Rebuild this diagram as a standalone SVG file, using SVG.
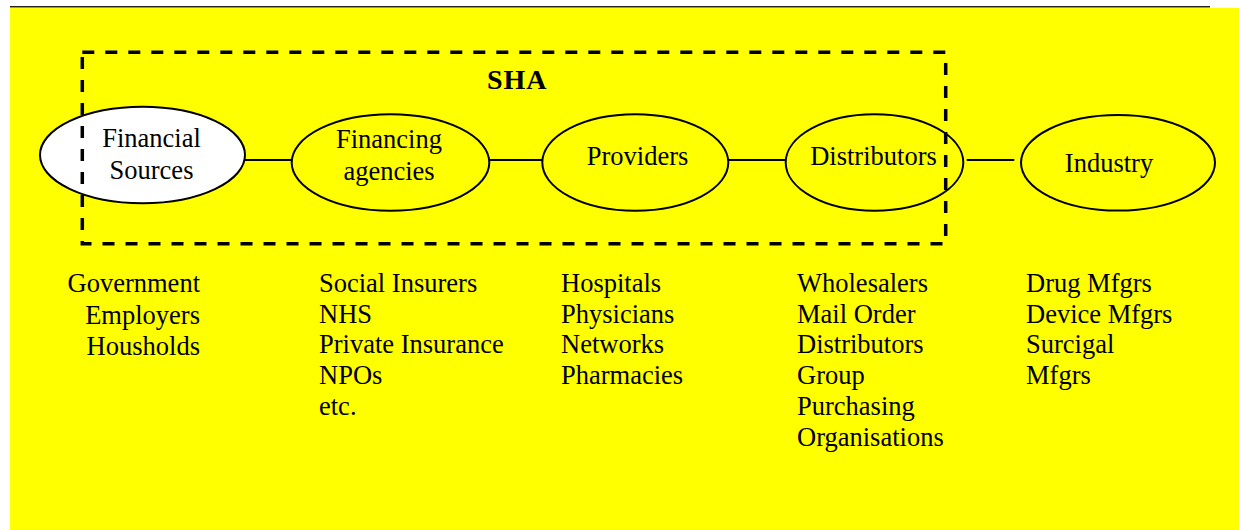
<svg xmlns="http://www.w3.org/2000/svg" width="1239" height="530" viewBox="0 0 1239 530">
  <style>
    .node { fill: #FFFF00; stroke: #000; stroke-width: 2; }
    .node.white { fill: #FFFFFF; }
    .lbl { font-family: "Liberation Serif", "Times New Roman", serif; font-size: 26.5px; fill: #000; }
    .mid { text-anchor: middle; }
    .title { font-size: 28px; font-weight: bold; letter-spacing: 1px; }
    .link { stroke: #000; stroke-width: 2; fill: none; }
  </style>

  <!-- page background and top rule -->
  <rect x="10" y="8" width="1229" height="522" fill="#FFFF00"/>
  <line x1="10" y1="6.8" x2="1210" y2="6.8" stroke="#222" stroke-width="1.6"/>

  <!-- connectors -->
  <g id="connectors">
    <line class="link" x1="245" y1="160" x2="291.7" y2="160"/>
    <line class="link" x1="489.3" y1="160" x2="542.3" y2="160"/>
    <line class="link" x1="728.3" y1="160" x2="785.7" y2="160"/>
    <line class="link" x1="966.7" y1="160" x2="1014.3" y2="160"/>
  </g>

  <g id="financial-sources">
    <ellipse class="node white" cx="142.5" cy="155" rx="102.5" ry="48.2"/>
    <text class="lbl mid" x="151.5" y="147">Financial</text>
    <text class="lbl mid" x="151.5" y="178.5">Sources</text>
  </g>

  <g id="financing-agencies">
    <ellipse class="node" cx="390.5" cy="162.5" rx="98.8" ry="48.2"/>
    <text class="lbl mid" x="389" y="147.5">Financing</text>
    <text class="lbl mid" x="389" y="179.5">agencies</text>
  </g>

  <g id="providers">
    <ellipse class="node" cx="635.3" cy="162.5" rx="93" ry="48.2"/>
    <text class="lbl mid" x="637.5" y="165">Providers</text>
  </g>

  <g id="distributors">
    <ellipse class="node" cx="874.5" cy="162.5" rx="88.8" ry="48.2"/>
    <text class="lbl mid" x="873.5" y="165">Distributors</text>
  </g>

  <g id="industry">
    <ellipse class="node" cx="1118" cy="162.8" rx="97" ry="47.8"/>
    <text class="lbl mid" x="1109" y="171.5">Industry</text>
  </g>

  <!-- SHA boundary -->
  <g id="sha">
    <rect x="82.3" y="52.3" width="863.4" height="191.4" fill="none" stroke="#000" stroke-width="3.5" stroke-dasharray="12 11"/>
    <text class="lbl title" x="487" y="89">SHA</text>
  </g>

  <!-- member lists -->
  <g id="list-sources" class="lbl" text-anchor="end">
    <text x="200" y="292">Government</text>
    <text x="200" y="323.5">Employers</text>
    <text x="200" y="355">Housholds</text>
  </g>

  <g id="list-agencies" class="lbl">
    <text x="319" y="292">Social Insurers</text>
    <text x="319" y="322.7">NHS</text>
    <text x="319" y="353.4">Private Insurance</text>
    <text x="319" y="384.1">NPOs</text>
    <text x="319" y="414.8">etc.</text>
  </g>

  <g id="list-providers" class="lbl">
    <text x="561" y="292">Hospitals</text>
    <text x="561" y="322.7">Physicians</text>
    <text x="561" y="353.4">Networks</text>
    <text x="561" y="384.1">Pharmacies</text>
  </g>

  <g id="list-distributors" class="lbl">
    <text x="797" y="292">Wholesalers</text>
    <text x="797" y="322.7">Mail Order</text>
    <text x="797" y="353.4">Distributors</text>
    <text x="797" y="384.1">Group</text>
    <text x="797" y="414.8">Purchasing</text>
    <text x="797" y="445.5">Organisations</text>
  </g>

  <g id="list-industry" class="lbl">
    <text x="1026" y="292">Drug Mfgrs</text>
    <text x="1026" y="322.7">Device Mfgrs</text>
    <text x="1026" y="353.4">Surcigal</text>
    <text x="1026" y="384.1">Mfgrs</text>
  </g>
</svg>
